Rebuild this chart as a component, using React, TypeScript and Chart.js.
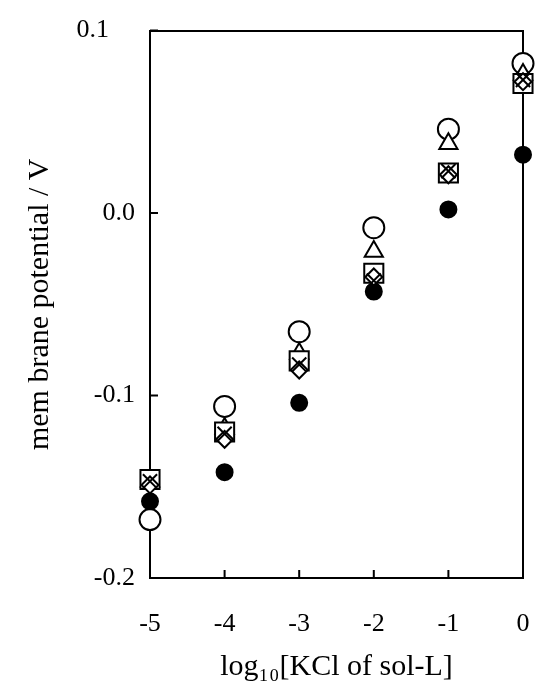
import React, { useEffect, useRef } from "react";
import { Chart, registerables } from "chart.js";

Chart.register(...registerables);

const xValues = [-5, -4, -3, -2, -1, 0];
const openCircle = [-0.168, -0.106, -0.065, -0.008, 0.046, 0.082];
const triangle = [-0.147, -0.118, -0.077, -0.021, 0.038, 0.076];
const square = [-0.146, -0.120, -0.081, -0.033, 0.022, 0.071];
const diamond = [-0.149, -0.124, -0.086, -0.035, 0.021, 0.072];
const cross = [-0.147, -0.121, -0.083, -0.037, 0.023, 0.073];
const filledCircle = [-0.158, -0.142, -0.104, -0.043, 0.002, 0.032];

const xTicks = [-5, -4, -3, -2, -1, 0];
const yTicks = [-0.2, -0.1, 0.0, 0.1];

const FONT = "'Liberation Serif', 'Times New Roman', serif";

const pts = (ys: number[]) => xValues.map((x, i) => ({ x, y: ys[i] }));

const innerTicks = {
  id: "innerTicks",
  afterDatasetsDraw(chart: any) {
    const { ctx, chartArea, scales } = chart;
    ctx.save();
    ctx.strokeStyle = "#000";
    ctx.lineWidth = 2;
    ctx.beginPath();
    xTicks.forEach((v) => {
      const px = scales.x.getPixelForValue(v);
      ctx.moveTo(px, chartArea.bottom);
      ctx.lineTo(px, chartArea.bottom - 8);
    });
    yTicks.forEach((v) => {
      const py = scales.y.getPixelForValue(v);
      ctx.moveTo(chartArea.left, py);
      ctx.lineTo(chartArea.left + 8, py);
    });
    ctx.stroke();
    ctx.restore();
  },
};

export default function App() {
  const ref = useRef<HTMLCanvasElement | null>(null);

  useEffect(() => {
    if (!ref.current) return;
    const mk = (label: string, data: number[], style: any, r: number, bg: string, order: number) => ({
      label,
      data: pts(data),
      pointStyle: style,
      pointRadius: r,
      pointHoverRadius: r,
      pointBackgroundColor: bg,
      pointBorderColor: "#000",
      pointBorderWidth: 2,
      showLine: false,
      clip: false,
      order,
    });
    const chart = new Chart(ref.current, {
      type: "scatter",
      data: {
        datasets: [
          mk("open circle", openCircle, "circle", 10.5, "#fff", 5),
          mk("filled circle", filledCircle, "circle", 8, "#000", 4),
          mk("triangle", triangle, "triangle", 10.5, "#fff", 3),
          mk("square", square, "rect", 13.5, "#fff", 2),
          mk("diamond", diamond, "rectRot", 8.5, "#fff", 1),
          mk("cross", cross, "crossRot", 10, "rgba(0,0,0,0)", 0),
        ] as any,
      },
      options: {
        responsive: false,
        animation: false,
        layout: { padding: { left: 0, right: 27, top: 30, bottom: 0 } },
        plugins: { legend: { display: false }, tooltip: { enabled: false } },
        scales: {
          x: {
            type: "linear",
            position: "bottom",
            min: -5,
            max: 0,
            afterBuildTicks: (s: any) => {
              s.ticks = xTicks.map((v) => ({ value: v }));
            },
            afterFit: (s: any) => {
              s.height = 119;
            },
            grid: { drawOnChartArea: false, drawTicks: true, tickLength: 26, color: "rgba(0,0,0,0)" },
            border: { display: true, color: "#000", width: 2 },
            ticks: {
              color: "#000",
              padding: 5,
              maxRotation: 0,
              font: { family: FONT, size: 26 },
              callback: (v: any) => String(v),
            },
            title: {
              display: true,
              text: "log\u2081\u2080[KCl of sol-L]",
              color: "#000",
              font: { family: FONT, size: 30 },
              padding: { top: 0, bottom: 12 },
            },
          },
          y: {
            type: "linear",
            position: "left",
            min: -0.2,
            max: 0.1,
            afterBuildTicks: (s: any) => {
              s.ticks = yTicks.map((v) => ({ value: v }));
            },
            afterFit: (s: any) => {
              s.width = 150;
            },
            grid: { drawOnChartArea: false, drawTicks: false },
            border: { display: true, color: "#000", width: 2 },
            ticks: {
              color: "#000",
              padding: 15,
              font: { family: FONT, size: 26 },
              callback: (v: any) => {
                const s = Number(v).toFixed(1);
                return Math.abs(Number(v) - 0.1) < 1e-9 ? s + "    " : s;
              },
            },
            title: {
              display: true,
              text: "mem brane potential / V",
              color: "#000",
              font: { family: FONT, size: 30 },
              padding: { top: 22, bottom: 0 },
            },
          },
          x2: {
            type: "linear",
            position: "top",
            min: -5,
            max: 0,
            afterFit: (s: any) => {
              s.height = 0;
            },
            grid: { drawOnChartArea: false, drawTicks: false },
            border: { display: true, color: "#000", width: 2 },
            ticks: { display: false },
          },
          y2: {
            type: "linear",
            position: "right",
            min: -0.2,
            max: 0.1,
            afterFit: (s: any) => {
              s.width = 0;
            },
            grid: { drawOnChartArea: false, drawTicks: false },
            border: { display: true, color: "#000", width: 2 },
            ticks: { display: false },
          },
        },
      },
      plugins: [innerTicks],
    });
    return () => chart.destroy();
  }, []);

  return (
    <div style={{ position: "absolute", left: 0, top: 0, width: 550, height: 697, background: "#fff" }}>
      <canvas ref={ref} width={550} height={697} style={{ width: 550, height: 697 }} />
    </div>
  );
}
